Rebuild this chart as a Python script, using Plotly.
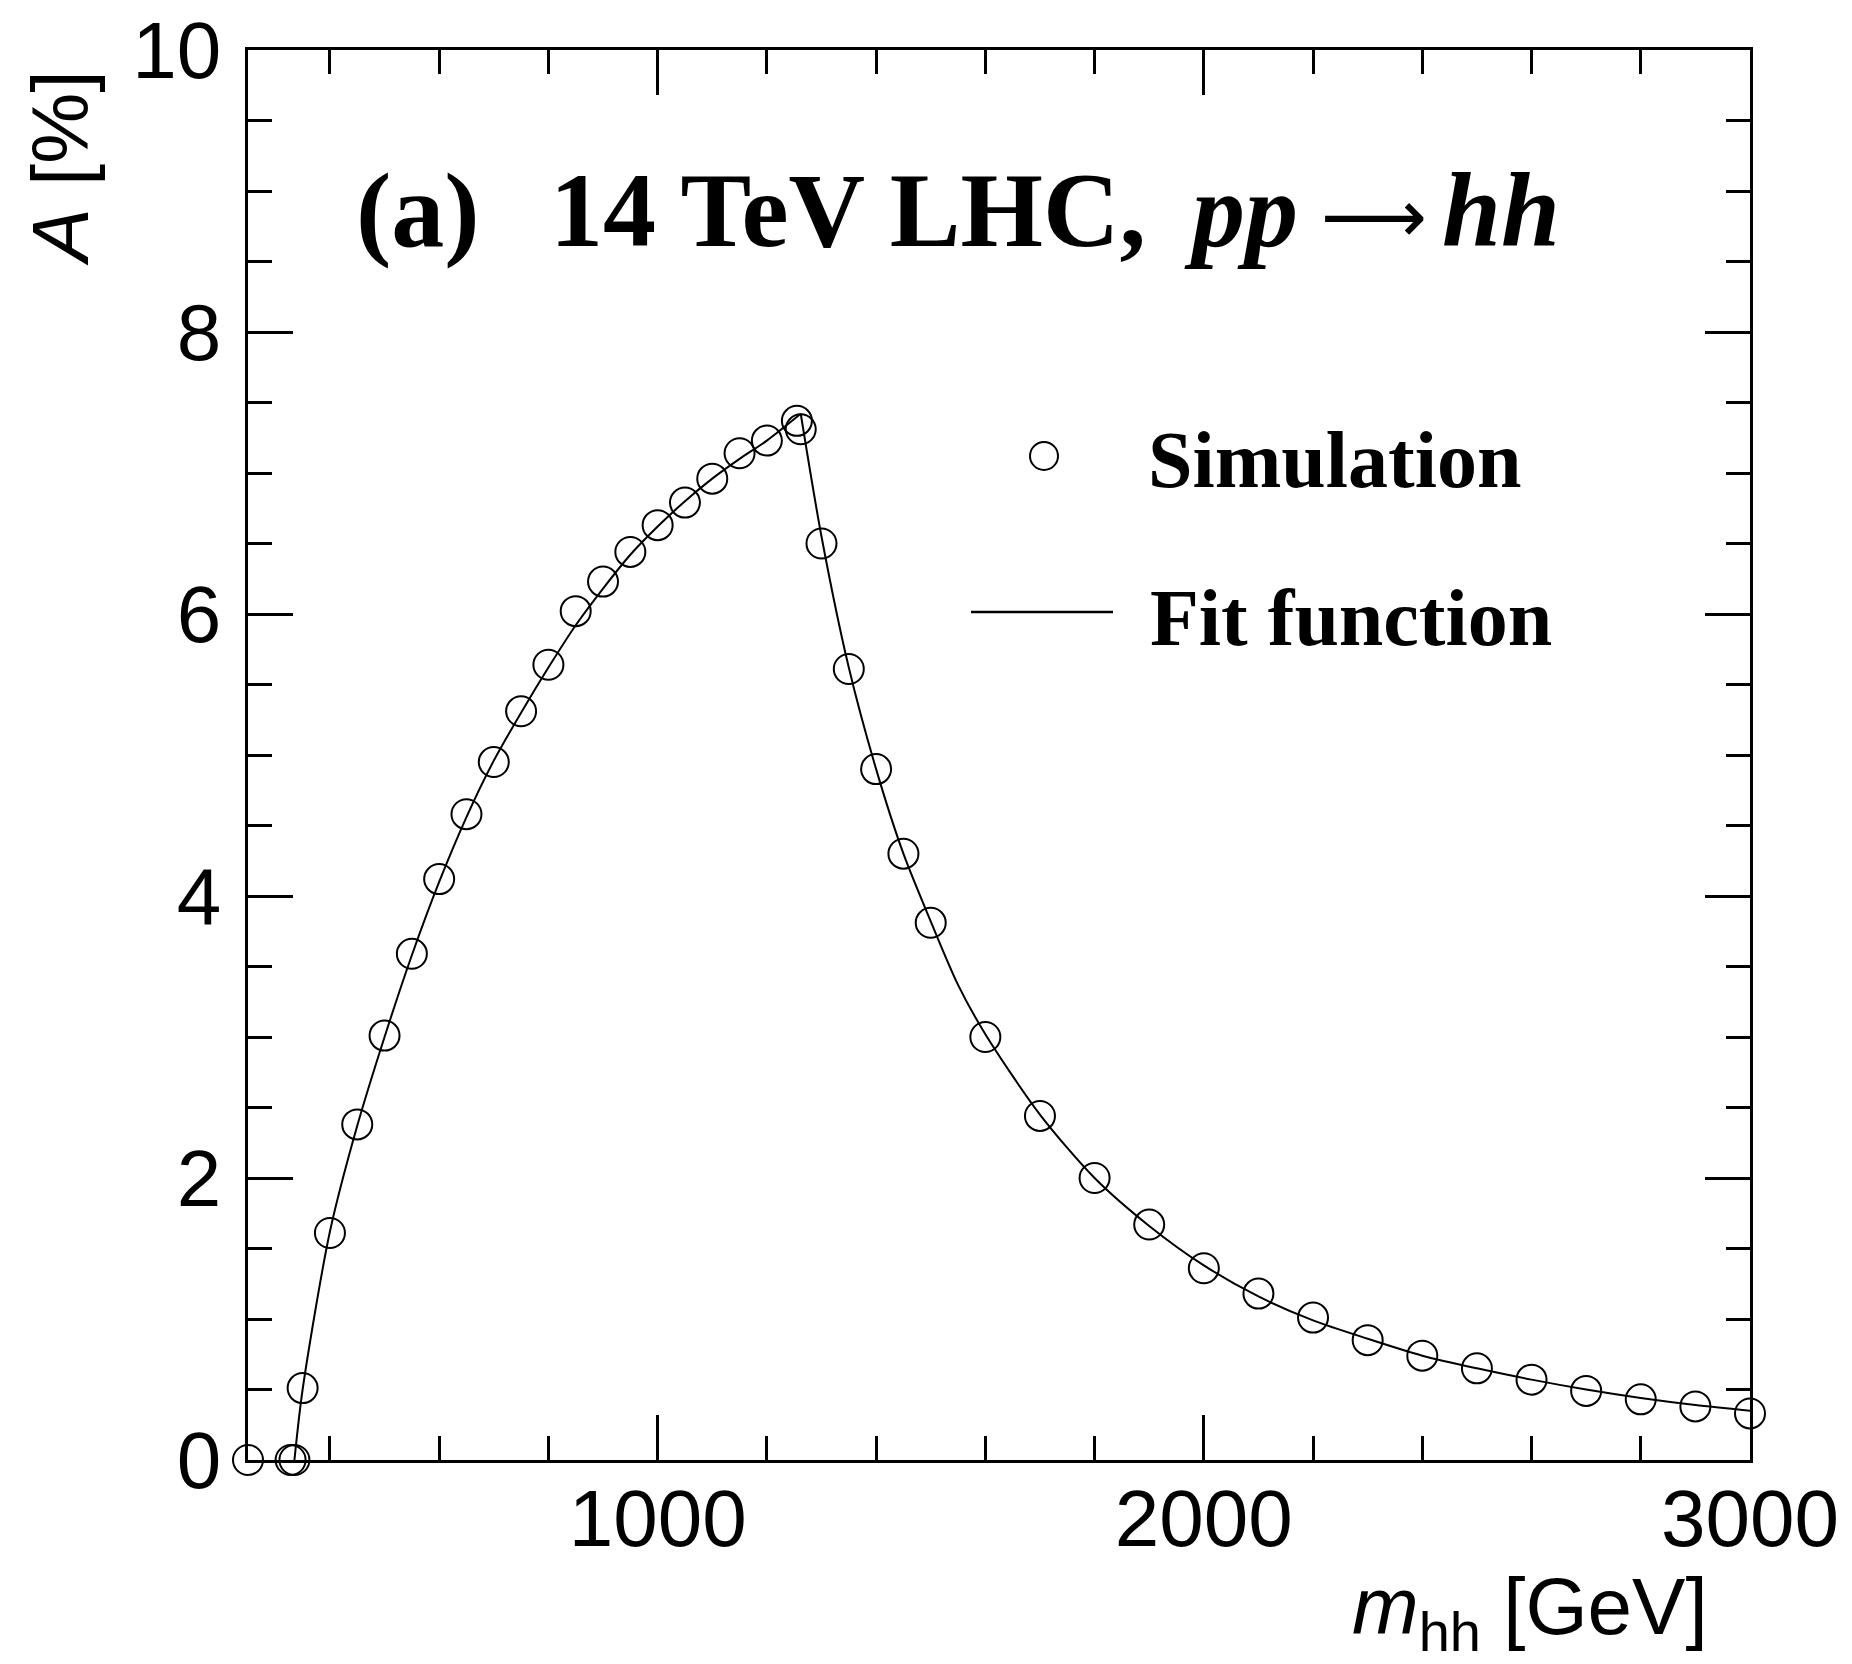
import plotly.graph_objects as go

# ---- data ----
sim_x = [250, 328, 335, 350, 400, 450, 500, 550, 600, 650, 700, 750, 800, 850, 900, 950,
         1000, 1050, 1100, 1150, 1200, 1255, 1262, 1300, 1350, 1400, 1450, 1500, 1600,
         1700, 1800, 1900, 2000, 2100, 2200, 2300, 2400, 2500, 2600, 2700, 2800, 2900, 3000]
sim_y = [0.0, 0.0, 0.0, 0.51, 1.61, 2.38, 3.01, 3.59, 4.12, 4.58, 4.95, 5.31, 5.64, 6.02, 6.23, 6.44,
         6.63, 6.79, 6.96, 7.14, 7.23, 7.37, 7.31, 6.50, 5.61, 4.90, 4.30, 3.81, 3.00,
         2.44, 2.00, 1.67, 1.36, 1.18, 1.01, 0.85, 0.74, 0.65, 0.57, 0.49, 0.43, 0.38, 0.33]

fit_x = [335, 350, 400, 450, 500, 550, 600, 650, 700, 750, 800, 850, 900, 950, 1000, 1050,
         1100, 1150, 1200, 1262, 1300, 1350, 1400, 1450, 1500, 1550, 1600, 1700, 1800, 1900,
         2000, 2100, 2200, 2300, 2400, 2500, 2600, 2700, 2800, 2900, 3000]
fit_y = [0.0, 0.50, 1.62, 2.37, 3.00, 3.58, 4.10, 4.56, 4.96, 5.30, 5.62, 5.92, 6.18, 6.42, 6.62, 6.80,
         6.96, 7.10, 7.23, 7.42, 6.55, 5.62, 4.90, 4.30, 3.82, 3.37, 3.02, 2.45, 2.00, 1.66,
         1.38, 1.16, 0.99, 0.86, 0.74, 0.65, 0.57, 0.50, 0.44, 0.39, 0.35]

x_range = [250, 3000]
y_range = [0, 10]

# ---- layout geometry (pixels, reference coordinates) ----
W, H = 1852, 1664
OFF = 8  # page body margin
L, R, T, B = 248, 1750, 50, 1460
PW, PH = R - L, B - T
FW, FH = W - OFF, H - OFF


def px(x):
    return (x - L) / PW


def py(y):
    return (B - y) / PH


serif = "Liberation Serif"
sans = "Liberation Sans"

# split fit curve at its maximum (cusp) so each side can be smoothed
ipk = fit_y.index(max(fit_y))

fig = go.Figure()
for xs, ys in ((fit_x[:ipk + 1], fit_y[:ipk + 1]), (fit_x[ipk:], fit_y[ipk:])):
    fig.add_trace(go.Scatter(x=xs, y=ys, mode="lines",
                             line=dict(color="black", width=2, shape="spline", smoothing=0.8),
                             showlegend=False))
fig.add_trace(go.Scatter(x=sim_x, y=sim_y, mode="markers",
                         marker=dict(symbol="circle-open", size=30, color="black",
                                     line=dict(width=2, color="black")),
                         showlegend=False, cliponaxis=False))

axis_common = dict(showline=True, linecolor="black", linewidth=2.5, mirror="allticks",
                   ticks="inside", tickwidth=2.5, tickcolor="black", ticklen=45,
                   showgrid=False, zeroline=False, ticklabeloverflow="allow",
                   automargin=False,
                   tickfont=dict(family=sans, size=80, color="black"))

fig.update_xaxes(range=x_range, tick0=0, dtick=1000,
                 minor=dict(ticks="inside", dtick=200, tick0=0, ticklen=24,
                            tickwidth=2.5, tickcolor="black", showgrid=False),
                 ticklabelstandoff=-13, **axis_common)
fig.update_yaxes(range=y_range, tick0=0, dtick=2,
                 minor=dict(ticks="inside", dtick=0.5, tick0=0, ticklen=24,
                            tickwidth=2.5, tickcolor="black", showgrid=False),
                 ticklabelstandoff=8, **axis_common)

TS = 106
TY = 210
title_font = dict(family=serif, size=TS, color="black", weight="bold")
annotations = [
    dict(text="(a)", x=px(354), y=py(TY), xanchor="left", yanchor="middle", font=title_font),
    dict(text="14 TeV LHC,", x=px(548), y=py(TY), xanchor="left", yanchor="middle", font=title_font),
    dict(text="<i>pp</i>", x=px(1182), y=py(TY), xanchor="left", yanchor="middle", font=title_font),
    dict(text="\u27f6", x=px(1374), y=py(216), xanchor="center", yanchor="middle",
         font=dict(family="DejaVu Sans", size=74, color="black")),
    dict(text="<i>hh</i>", x=px(1562), y=py(TY), xanchor="right", yanchor="middle", font=title_font),
    dict(text="Simulation", x=px(1146), y=py(460), xanchor="left", yanchor="middle",
         font=dict(family=serif, size=80, color="black", weight="bold")),
    dict(text="Fit function", x=px(1148), y=py(618), xanchor="left", yanchor="middle",
         font=dict(family=serif, size=80, color="black", weight="bold")),
    dict(text="<i>A</i> [%]", x=px(60), y=py(68), xanchor="center", yanchor="top",
         textangle=-90, font=dict(family=sans, size=80, color="black")),
    dict(text="<i>m</i><sub>hh</sub> [GeV]", x=px(1710), y=py(1612), xanchor="right",
         yanchor="middle", font=dict(family=sans, size=80, color="black")),
]
for a in annotations:
    a.update(xref="paper", yref="paper", showarrow=False)

shapes = [
    dict(type="circle", xref="paper", yref="paper", xsizemode="pixel", ysizemode="pixel",
         xanchor=px(1044), yanchor=py(456), x0=-14, x1=14, y0=-14, y1=14,
         line=dict(color="black", width=2)),
    dict(type="line", xref="paper", yref="paper", x0=px(971), x1=px(1113),
         y0=py(612), y1=py(612), line=dict(color="black", width=2.5)),
]

fig.update_layout(width=FW, height=FH,
                  margin=dict(l=L - OFF, r=FW - (R - OFF), t=T - OFF, b=FH - (B - OFF)),
                  paper_bgcolor="white", plot_bgcolor="white",
                  annotations=annotations, shapes=shapes, showlegend=False)

fig.write_html("out.html")
